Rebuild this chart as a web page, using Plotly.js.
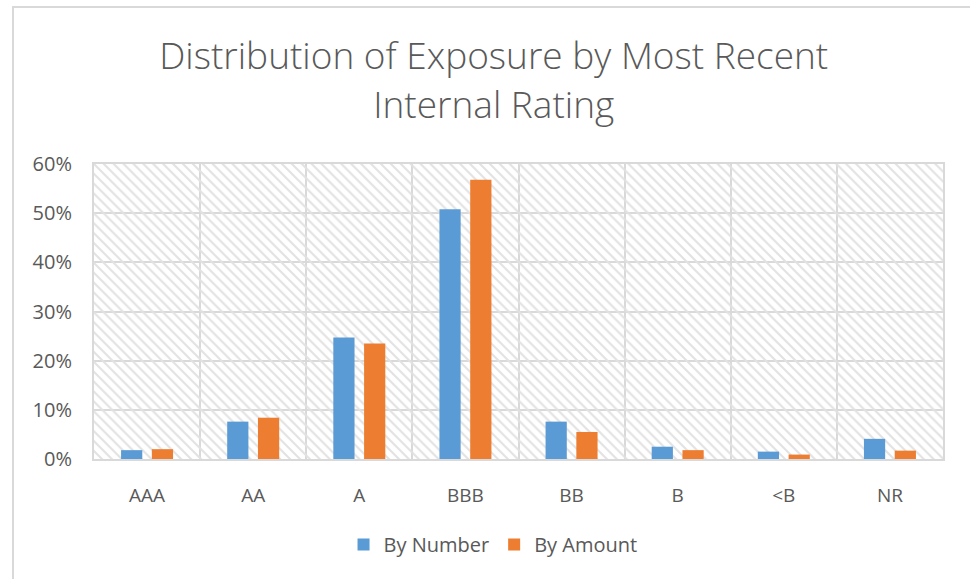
<!DOCTYPE html>
<html>
<head>
<meta charset="utf-8">
<script src="https://cdn.plot.ly/plotly-3.0.1.min.js"></script>
<style>
  html, body { margin: 0; padding: 0; background: #ffffff; }
  #chart { position: absolute; left: 0; top: 0; width: 970px; height: 579px; }
  #frame { position: absolute; left: 12px; top: 6px; width: 970px; height: 600px;
           border-left: 2px solid #d9d9d9; border-top: 2px solid #d9d9d9; pointer-events: none; }
</style>
</head>
<body>
<div id="chart"></div>
<div id="frame"></div>
<script>
const categories = ["AAA", "AA", "A", "BBB", "BB", "B", "<B", "NR"];
const byNumber = [0.018, 0.076, 0.247, 0.508, 0.076, 0.025, 0.015, 0.041];
const byAmount = [0.020, 0.084, 0.235, 0.568, 0.055, 0.018, 0.009, 0.017];
const yTicks = [0, 0.1, 0.2, 0.3, 0.4, 0.5, 0.6];
const yMax = 0.6;

const textColor = "#595959";
const gridColor = "#d9d9d9";
const font = "Open Sans, Lato, sans-serif";

const hatch = {
  type: "bar",
  x: categories,
  y: categories.map(() => yMax),
  width: 1,
  offset: -0.5,
  marker: {
    color: "#e2e2e2",
    line: { width: 0 },
    pattern: { shape: "\\", size: 7, solidity: 0.3, fillmode: "replace", bgcolor: "rgba(0,0,0,0)" }
  },
  hoverinfo: "skip",
  showlegend: false
};

const traces = [
  hatch,
  {
    type: "bar", name: "By Number", x: categories, y: byNumber,
    width: 0.2, offset: -0.245,
    marker: { color: "#5b9bd5", line: { width: 0 } }
  },
  {
    type: "bar", name: "By Amount", x: categories, y: byAmount,
    width: 0.2, offset: 0.045,
    marker: { color: "#ed7d31", line: { width: 0 } }
  }
];

const layout = {
  width: 970, height: 579,
  paper_bgcolor: "#ffffff",
  plot_bgcolor: "#ffffff",
  barmode: "overlay",
  margin: { l: 94, r: 27, t: 164, b: 120, pad: 0 },
  title: {
    text: "Distribution of Exposure by Most Recent<br>Internal Rating",
    font: { family: font, size: 37, color: textColor, weight: 300 },
    x: 0.509, xref: "container", xanchor: "center",
    y: 0.88, yref: "container", yanchor: "middle"
  },
  xaxis: {
    type: "category",
    categoryorder: "array",
    categoryarray: categories,
    range: [-0.5, categories.length - 0.5],
    tickson: "boundaries",
    ticks: "",
    showgrid: true, gridcolor: gridColor, gridwidth: 2,
    showline: true, linecolor: gridColor, linewidth: 2, mirror: true,
    ticklabelstandoff: 18,
    tickfont: { family: font, size: 19, color: textColor },
    fixedrange: true
  },
  yaxis: {
    range: [0, yMax],
    tickvals: yTicks,
    tickformat: ".0%",
    ticks: "",
    showgrid: true, gridcolor: gridColor, gridwidth: 2,
    showline: true, linecolor: gridColor, linewidth: 2, mirror: true,
    zeroline: false,
    ticklabelstandoff: 16,
    tickfont: { family: font, size: 20, color: textColor },
    fixedrange: true
  },
  legend: {
    orientation: "h",
    x: 0.47, xanchor: "center",
    y: -0.29, yanchor: "middle",
    font: { family: font, size: 20, color: textColor },
    traceorder: "normal",
    itemwidth: 30
  },
  showlegend: true
};

Plotly.newPlot("chart", traces, layout, { displayModeBar: false, staticPlot: true });
</script>
</body>
</html>
